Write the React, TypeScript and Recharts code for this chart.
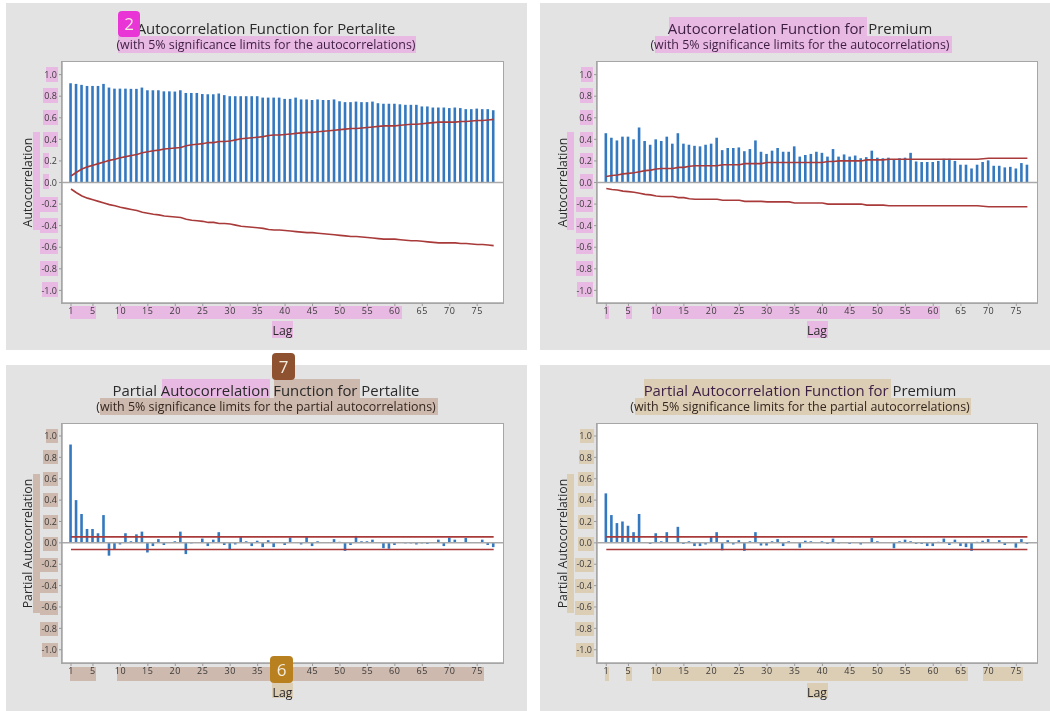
import React from 'react';
import { ComposedChart, Bar, Line, XAxis, YAxis, ReferenceLine, Label } from 'recharts';

const lags78 = [1,2,3,4,5,6,7,8,9,10,11,12,13,14,15,16,17,18,19,20,21,22,23,24,25,26,27,28,29,30,31,32,33,34,35,36,37,38,39,40,41,42,43,44,45,46,47,48,49,50,51,52,53,54,55,56,57,58,59,60,61,62,63,64,65,66,67,68,69,70,71,72,73,74,75,76,77,78];
const lags77 = [1,2,3,4,5,6,7,8,9,10,11,12,13,14,15,16,17,18,19,20,21,22,23,24,25,26,27,28,29,30,31,32,33,34,35,36,37,38,39,40,41,42,43,44,45,46,47,48,49,50,51,52,53,54,55,56,57,58,59,60,61,62,63,64,65,66,67,68,69,70,71,72,73,74,75,76,77];

const lagTicks = [1,5,10,15,20,25,30,35,40,45,50,55,60,65,70,75];
const corrTicks = [-1,-0.8,-0.6,-0.4,-0.2,0,0.2,0.4,0.6,0.8,1];

const acfPertalite = [0.92,0.914,0.905,0.895,0.895,0.895,0.914,0.88,0.87,0.87,0.87,0.868,0.868,0.88,0.855,0.855,0.855,0.845,0.845,0.843,0.855,0.83,0.83,0.83,0.82,0.818,0.818,0.825,0.81,0.8,0.8,0.8,0.8,0.8,0.8,0.787,0.787,0.787,0.787,0.775,0.775,0.787,0.77,0.77,0.765,0.77,0.765,0.765,0.77,0.753,0.745,0.745,0.75,0.745,0.745,0.75,0.735,0.73,0.73,0.73,0.725,0.72,0.72,0.72,0.705,0.705,0.695,0.695,0.695,0.69,0.695,0.69,0.68,0.68,0.685,0.68,0.68,0.67];
const upperPertalite = [0.06,0.095,0.125,0.145,0.16,0.175,0.19,0.205,0.215,0.23,0.24,0.25,0.26,0.275,0.285,0.295,0.3,0.31,0.315,0.32,0.325,0.34,0.35,0.355,0.36,0.37,0.37,0.38,0.38,0.385,0.395,0.405,0.41,0.415,0.42,0.425,0.435,0.44,0.44,0.445,0.45,0.455,0.46,0.465,0.465,0.47,0.475,0.48,0.485,0.49,0.495,0.5,0.5,0.505,0.51,0.515,0.52,0.525,0.525,0.525,0.53,0.535,0.54,0.54,0.545,0.55,0.555,0.56,0.56,0.56,0.56,0.565,0.565,0.57,0.575,0.575,0.58,0.585];
const lowerPertalite = [-0.06,-0.095,-0.125,-0.145,-0.16,-0.175,-0.19,-0.205,-0.215,-0.23,-0.24,-0.25,-0.26,-0.275,-0.285,-0.295,-0.3,-0.31,-0.315,-0.32,-0.325,-0.34,-0.35,-0.355,-0.36,-0.37,-0.37,-0.38,-0.38,-0.385,-0.395,-0.405,-0.41,-0.415,-0.42,-0.425,-0.435,-0.44,-0.44,-0.445,-0.45,-0.455,-0.46,-0.465,-0.465,-0.47,-0.475,-0.48,-0.485,-0.49,-0.495,-0.5,-0.5,-0.505,-0.51,-0.515,-0.52,-0.525,-0.525,-0.525,-0.53,-0.535,-0.54,-0.54,-0.545,-0.55,-0.555,-0.56,-0.56,-0.56,-0.56,-0.565,-0.565,-0.57,-0.575,-0.575,-0.58,-0.585];

const acfPremium = [0.457,0.415,0.39,0.425,0.425,0.4,0.51,0.385,0.35,0.4,0.385,0.425,0.36,0.457,0.36,0.35,0.34,0.335,0.35,0.36,0.415,0.3,0.32,0.32,0.325,0.29,0.31,0.39,0.285,0.265,0.295,0.32,0.285,0.285,0.335,0.24,0.255,0.265,0.285,0.275,0.24,0.31,0.24,0.26,0.24,0.25,0.225,0.235,0.295,0.23,0.225,0.23,0.215,0.225,0.23,0.275,0.195,0.19,0.19,0.19,0.2,0.22,0.22,0.2,0.165,0.165,0.13,0.165,0.19,0.205,0.155,0.155,0.14,0.145,0.13,0.18,0.165];
const upperPremium = [0.055,0.065,0.07,0.08,0.085,0.09,0.1,0.11,0.115,0.125,0.13,0.13,0.13,0.14,0.14,0.15,0.155,0.155,0.155,0.155,0.155,0.165,0.165,0.165,0.165,0.175,0.175,0.175,0.175,0.185,0.185,0.185,0.185,0.185,0.185,0.185,0.185,0.185,0.185,0.185,0.195,0.195,0.2,0.2,0.2,0.2,0.2,0.21,0.21,0.21,0.21,0.215,0.215,0.215,0.215,0.215,0.215,0.215,0.215,0.215,0.215,0.215,0.215,0.215,0.215,0.215,0.215,0.215,0.22,0.225,0.225,0.225,0.225,0.225,0.225,0.225,0.225];
const lowerPremium = [-0.055,-0.065,-0.07,-0.08,-0.085,-0.09,-0.1,-0.11,-0.115,-0.125,-0.13,-0.13,-0.13,-0.14,-0.14,-0.15,-0.155,-0.155,-0.155,-0.155,-0.155,-0.165,-0.165,-0.165,-0.165,-0.175,-0.175,-0.175,-0.175,-0.18,-0.18,-0.18,-0.18,-0.18,-0.19,-0.19,-0.19,-0.19,-0.19,-0.19,-0.2,-0.2,-0.2,-0.2,-0.2,-0.2,-0.2,-0.21,-0.21,-0.21,-0.21,-0.215,-0.215,-0.215,-0.215,-0.215,-0.215,-0.215,-0.215,-0.215,-0.215,-0.215,-0.215,-0.215,-0.215,-0.215,-0.215,-0.215,-0.22,-0.225,-0.225,-0.225,-0.225,-0.225,-0.225,-0.225,-0.225];

const pacfPertalite = [0.92,0.4,0.27,0.13,0.13,0.09,0.26,-0.12,-0.06,-0.015,0.09,0.015,0.08,0.105,-0.09,-0.03,0.035,-0.02,0,0.015,0.105,-0.105,-0.005,0.005,0.04,-0.03,0.03,0.1,-0.02,-0.06,-0.015,0.055,0.015,-0.03,0.02,-0.04,0.025,-0.04,0,-0.02,0.05,0,-0.015,0.055,-0.03,0.015,0,0,0.035,0.01,-0.075,-0.02,0.065,0.015,0.015,0.03,0,-0.05,-0.055,-0.02,0,-0.005,-0.005,-0.015,-0.005,-0.01,0,0.03,-0.03,0.05,0.03,0,0.045,0,0,0.03,-0.02,-0.04];
const pUpperPertalite = [0.056,0.056,0.056,0.056,0.056,0.056,0.056,0.056,0.056,0.056,0.056,0.056,0.056,0.056,0.056,0.056,0.056,0.056,0.056,0.056,0.056,0.056,0.056,0.056,0.056,0.056,0.056,0.056,0.056,0.056,0.056,0.056,0.056,0.056,0.056,0.056,0.056,0.056,0.056,0.056,0.056,0.056,0.056,0.056,0.056,0.056,0.056,0.056,0.056,0.056,0.056,0.056,0.056,0.056,0.056,0.056,0.056,0.056,0.056,0.056,0.056,0.056,0.056,0.056,0.056,0.056,0.056,0.056,0.056,0.056,0.056,0.056,0.056,0.056,0.056,0.056,0.056,0.056];
const pLowerPertalite = [-0.062,-0.062,-0.062,-0.062,-0.062,-0.062,-0.062,-0.062,-0.062,-0.062,-0.062,-0.062,-0.062,-0.062,-0.062,-0.062,-0.062,-0.062,-0.062,-0.062,-0.062,-0.062,-0.062,-0.062,-0.062,-0.062,-0.062,-0.062,-0.062,-0.062,-0.062,-0.062,-0.062,-0.062,-0.062,-0.062,-0.062,-0.062,-0.062,-0.062,-0.062,-0.062,-0.062,-0.062,-0.062,-0.062,-0.062,-0.062,-0.062,-0.062,-0.062,-0.062,-0.062,-0.062,-0.062,-0.062,-0.062,-0.062,-0.062,-0.062,-0.062,-0.062,-0.062,-0.062,-0.062,-0.062,-0.062,-0.062,-0.062,-0.062,-0.062,-0.062,-0.062,-0.062,-0.062,-0.062,-0.062,-0.062];

const pacfPremium = [0.463,0.26,0.185,0.2,0.16,0.1,0.27,0,-0.01,0.09,0.015,0.1,0,0.15,-0.01,0.015,-0.03,-0.03,-0.015,0.055,0.1,-0.07,0.025,-0.015,0.025,-0.075,0.015,0.1,-0.025,-0.025,0.015,0.035,-0.03,0.015,0,-0.045,0.02,0.015,0,0.015,-0.01,0.04,-0.005,0.005,-0.01,0,-0.015,0,0.045,0.015,0,0,-0.05,0.015,0.03,0.015,-0.01,-0.01,-0.03,-0.03,0.01,0.04,-0.02,0.03,-0.03,-0.04,-0.075,0.01,0.02,0.035,0,0.025,-0.02,0,-0.045,0.035,-0.01];
const pUpperPremium = [0.056,0.056,0.056,0.056,0.056,0.056,0.056,0.056,0.056,0.056,0.056,0.056,0.056,0.056,0.056,0.056,0.056,0.056,0.056,0.056,0.056,0.056,0.056,0.056,0.056,0.056,0.056,0.056,0.056,0.056,0.056,0.056,0.056,0.056,0.056,0.056,0.056,0.056,0.056,0.056,0.056,0.056,0.056,0.056,0.056,0.056,0.056,0.056,0.056,0.056,0.056,0.056,0.056,0.056,0.056,0.056,0.056,0.056,0.056,0.056,0.056,0.056,0.056,0.056,0.056,0.056,0.056,0.056,0.056,0.056,0.056,0.056,0.056,0.056,0.056,0.056,0.056];
const pLowerPremium = [-0.062,-0.062,-0.062,-0.062,-0.062,-0.062,-0.062,-0.062,-0.062,-0.062,-0.062,-0.062,-0.062,-0.062,-0.062,-0.062,-0.062,-0.062,-0.062,-0.062,-0.062,-0.062,-0.062,-0.062,-0.062,-0.062,-0.062,-0.062,-0.062,-0.062,-0.062,-0.062,-0.062,-0.062,-0.062,-0.062,-0.062,-0.062,-0.062,-0.062,-0.062,-0.062,-0.062,-0.062,-0.062,-0.062,-0.062,-0.062,-0.062,-0.062,-0.062,-0.062,-0.062,-0.062,-0.062,-0.062,-0.062,-0.062,-0.062,-0.062,-0.062,-0.062,-0.062,-0.062,-0.062,-0.062,-0.062,-0.062,-0.062,-0.062,-0.062,-0.062,-0.062,-0.062,-0.062,-0.062,-0.062];

const FONT = '"Open Sans", "Noto Sans", sans-serif';
const PINK = '#e8b9e2';
const BROWN = '#cdb9ae';
const TAN = '#dccdb5';
const INK = '#2a2a2a';
const PURPLE_INK = '#3c1e44';

const rows = (lags: number[], r: number[], u: number[], l: number[]) =>
  lags.map((lag, i) => ({ lag, r: r[i], u: u[i], l: l[i] }));

type Hl = [number, number, number, number, string];

function tickHighlights(yStart: number[], x0: number[], x1: number, h: number, color: string): Hl[] {
  return yStart.map((y, i) => [x0[i], y, x1 - x0[i], h, color] as Hl);
}

const HIGHLIGHTS: Hl[] = [
  // top left
  [118, 36, 298, 17, PINK],
  ...tickHighlights([67, 88, 110, 132, 153, 174, 197, 218, 239, 261, 282], [46, 43, 43, 43, 43, 43, 40, 40, 40, 40, 42], 58, 15, PINK).map((h, i) => (i === 4 || i === 5 ? ([h[0], h[1], 6, h[3], h[4]] as Hl) : h)),
  [33, 132, 7, 98, PINK],
  [70, 306, 26, 13, PINK],
  [117, 306, 285, 13, PINK],
  [272, 321, 21, 17, PINK],
  // top right
  [669, 17, 198, 20, PINK],
  [655, 36, 297, 17, PINK],
  ...tickHighlights([67, 88, 110, 132, 153, 174, 197, 218, 239, 261, 282], [581, 580, 580, 580, 580, 580, 576, 576, 576, 576, 577], 593, 15, PINK),
  [567, 132, 7, 98, PINK],
  [605, 306, 4, 13, PINK],
  [626, 306, 6, 13, PINK],
  [652, 306, 288, 13, PINK],
  [807, 321, 21, 17, PINK],
  // bottom left
  [162, 379, 108, 21, PINK],
  [274, 379, 86, 21, BROWN],
  [100, 398, 338, 17, BROWN],
  ...tickHighlights([429, 450, 472, 493, 515, 537, 558, 579, 601, 622, 643], [46, 43, 43, 43, 43, 43, 40, 40, 40, 40, 42], 58, 14, BROWN),
  [33, 474, 7, 139, BROWN],
  [70, 667, 26, 14, BROWN],
  [117, 667, 367, 14, BROWN],
  [272, 683, 21, 15, TAN],
  // bottom right
  [644, 379, 247, 21, TAN],
  [635, 398, 336, 17, TAN],
  ...tickHighlights([429, 450, 472, 493, 515, 537, 558, 579, 601, 622, 643], [580, 579, 578, 578, 578, 578, 575, 575, 575, 575, 576], 594, 14, TAN),
  [567, 474, 7, 139, TAN],
  [605, 667, 4, 14, TAN],
  [626, 667, 6, 14, TAN],
  [652, 667, 316, 14, TAN],
  [983, 667, 40, 14, TAN],
  [807, 683, 21, 15, TAN],
];

const BADGES: [string, number, number, number, number, string][] = [
  ['2', 118, 11, 22, 26, '#e935d6'],
  ['7', 272, 353, 23, 27, '#8e5230'],
  ['6', 270, 656, 23, 27, '#b9801f'],
];

type PanelCfg = {
  px: number; py: number; pw: number; ph: number;
  plot: [number, number, number, number];
  xDomain: [number, number];
  yDomain: [number, number];
  data: { lag: number; r: number; u: number; l: number }[];
  yLabel: string;
  lagOffset: number;
  tx: number; ty: number;
  title: [string, string, string];
  sub: string;
  subColor: string;
};

const AXIS_W = 30;
const AXIS_H = 20;

const PANELS: PanelCfg[] = [
  {
    px: 6, py: 3, pw: 521, ph: 347, plot: [62, 62, 441, 241], xDomain: [-0.64, 79.7], yDomain: [-1.117, 1.117],
    data: rows(lags78, acfPertalite, upperPertalite, lowerPertalite), yLabel: 'Autocorrelation', lagOffset: -12,
    tx: 266, ty: 18.5, title: ['', '', 'Autocorrelation Function for Pertalite'],
    sub: '(with 5% significance limits for the autocorrelations)', subColor: PURPLE_INK,
  },
  {
    px: 540, py: 3, pw: 510, ph: 347, plot: [597, 62, 440, 241], xDomain: [-0.68, 78.73], yDomain: [-1.117, 1.117],
    data: rows(lags77, acfPremium, upperPremium, lowerPremium), yLabel: 'Autocorrelation', lagOffset: -12,
    tx: 800, ty: 18.5, title: ['Autocorrelation Function for', ' ', 'Premium'],
    sub: '(with 5% significance limits for the autocorrelations)', subColor: PURPLE_INK,
  },
  {
    px: 6, py: 365, pw: 521, ph: 346, plot: [62, 424, 441, 239], xDomain: [-0.64, 79.7], yDomain: [-1.124, 1.112],
    data: rows(lags78, pacfPertalite, pUpperPertalite, pLowerPertalite), yLabel: 'Partial Autocorrelation', lagOffset: -14,
    tx: 266, ty: 380.5, title: ['', '', 'Partial Autocorrelation Function for Pertalite'],
    sub: '(with 5% significance limits for the partial autocorrelations)', subColor: '#33261f',
  },
  {
    px: 540, py: 365, pw: 510, ph: 346, plot: [597, 424, 440, 239], xDomain: [-0.68, 78.73], yDomain: [-1.124, 1.112],
    data: rows(lags77, pacfPremium, pUpperPremium, pLowerPremium), yLabel: 'Partial Autocorrelation', lagOffset: -14,
    tx: 800, ty: 380.5, title: ['Partial Autocorrelation Function for', ' ', 'Premium'],
    sub: '(with 5% significance limits for the partial autocorrelations)', subColor: '#33261f',
  },
];

const abs = (x: number, y: number, w: number, h: number): React.CSSProperties => ({
  position: 'absolute', left: x, top: y, width: w, height: h,
});

function Panel({ cfg }: { cfg: PanelCfg }) {
  const [x, y, w, h] = cfg.plot;
  const chartW = cfg.pw;
  const left = x - cfg.px - AXIS_W;
  const top = y - cfg.py;
  const right = cfg.pw - (x - cfg.px) - w;
  const bottom = cfg.ph - top - h - AXIS_H;
  return (
    <>
      <div style={{ ...abs(x - 1.5, y - 1.5, w, h), boxSizing: 'content-box', background: '#fff', border: '1.5px solid #a6a6a6' }} />
      <div style={{ ...abs(cfg.px, cfg.py, chartW, cfg.ph) }}>
        <ComposedChart
          width={chartW}
          height={cfg.ph}
          data={cfg.data}
          margin={{ left, top, right, bottom }}
          barCategoryGap={0}
        >
          <XAxis
            dataKey="lag"
            type="number"
            domain={cfg.xDomain}
            ticks={lagTicks}
            interval={0}
            allowDataOverflow
            height={AXIS_H}
            tickSize={3}
            tick={{ fontSize: 9, fill: '#3a3a3a', fontFamily: FONT, letterSpacing: 0.6 }}
            tickLine={{ stroke: '#9a9a9a' }}
            axisLine={{ stroke: '#a6a6a6', strokeWidth: 1.5 }}
          >
            <Label value="Lag" position="insideBottom" offset={cfg.lagOffset} style={{ fontSize: 12.3, fill: INK, fontFamily: FONT }} />
          </XAxis>
          <YAxis
            type="number"
            domain={cfg.yDomain}
            ticks={corrTicks}
            interval={0}
            allowDataOverflow
            width={AXIS_W}
            tickSize={3}
            tickFormatter={(v: number) => v.toFixed(1)}
            tick={{ fontSize: 9, fill: '#3a3a3a', fontFamily: FONT }}
            tickLine={{ stroke: '#9a9a9a' }}
            axisLine={{ stroke: '#a6a6a6', strokeWidth: 1.5 }}
          >
            <Label value={cfg.yLabel} angle={-90} position="left" offset={4} style={{ fontSize: 12.3, fill: INK, fontFamily: FONT, textAnchor: 'middle' }} />
          </YAxis>
          <Bar dataKey="r" fill="#3478bf" barSize={2.6} isAnimationActive={false} />
          <ReferenceLine y={0} stroke="#a9a9a9" strokeWidth={1.5} />
          <Line dataKey="u" stroke="#a93a3a" strokeWidth={1.6} dot={false} activeDot={false} isAnimationActive={false} />
          <Line dataKey="l" stroke="#a93a3a" strokeWidth={1.6} dot={false} activeDot={false} isAnimationActive={false} />
        </ComposedChart>
      </div>
      <div style={{ position: 'absolute', left: cfg.tx - 250, top: cfg.ty, width: 500, textAlign: 'center', fontFamily: FONT, fontSize: 14.9, lineHeight: '18px', color: INK, whiteSpace: 'pre' }}>
        <span style={{ color: PURPLE_INK }}>{cfg.title[0]}</span>{cfg.title[1]}{cfg.title[2]}
      </div>
      <div style={{ position: 'absolute', left: cfg.tx - 250, top: cfg.ty + 18, width: 500, textAlign: 'center', fontFamily: FONT, fontSize: 12.45, lineHeight: '16px', color: cfg.subColor, whiteSpace: 'pre' }}>
        {cfg.sub}
      </div>
    </>
  );
}

export default function App() {
  return (
    <div style={{ ...abs(0, 0, 1050, 711), background: '#fff', overflow: 'hidden', filter: 'blur(0.5px)' }}>
      {PANELS.map((p, i) => (
        <div key={`bg${i}`} style={{ ...abs(p.px, p.py, p.pw, p.ph), background: '#e3e3e3' }} />
      ))}
      {HIGHLIGHTS.map((h, i) => (
        <div key={`h${i}`} style={{ ...abs(h[0], h[1], h[2], h[3]), background: h[4] }} />
      ))}
      {PANELS.map((p, i) => (
        <Panel key={`p${i}`} cfg={p} />
      ))}
      {BADGES.map(([t, x, y, w, h, c]) => (
        <div key={t} style={{ ...abs(x, y, w, h), background: c, borderRadius: 4, color: '#f4ecdf', fontFamily: FONT, fontSize: 17, lineHeight: `${h}px`, textAlign: 'center' }}>
          {t}
        </div>
      ))}
    </div>
  );
}
